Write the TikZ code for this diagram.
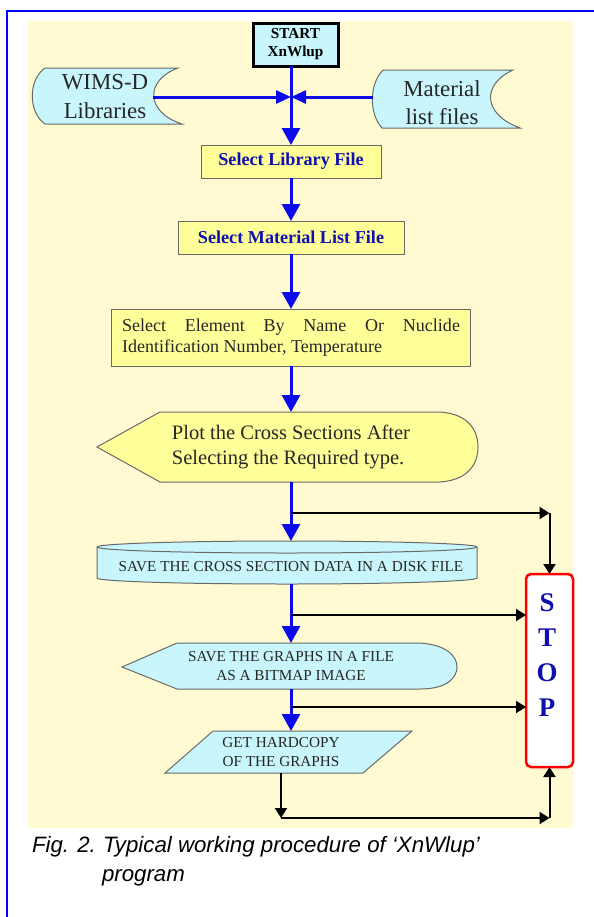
\documentclass[tikz,border=0pt]{standalone}
\usepackage{fontspec}
\setmainfont{Liberation Serif}
\newfontfamily\capfont{Liberation Sans}
\usetikzlibrary{arrows.meta}
\definecolor{pagebg}{RGB}{255,250,210}
\definecolor{boxyellow}{RGB}{255,255,153}
\definecolor{boxcyan}{RGB}{200,246,252}
\definecolor{flowblue}{RGB}{10,10,235}
\definecolor{textblue}{RGB}{15,15,175}
\definecolor{rimgray}{RGB}{105,105,105}

\begin{document}
\begin{tikzpicture}
[x=0.3mm, y=-0.3mm, thick, color=black,
 every node/.style={outer sep=0pt, inner sep=0pt, text=black!85},
 startbox/.style={draw=black, line width=0.9mm, fill=boxcyan, minimum width=25.5mm,
   minimum height=12.9mm, align=center, text=black, font=\bfseries\fontsize{13}{15.4}\selectfont},
 selbox/.style={draw=rimgray, line width=0.3mm, fill=boxyellow, minimum height=9.9mm,
   text=textblue, font=\bfseries\fontsize{15.5}{18}\selectfont},
 elembox/.style={draw=rimgray, line width=0.3mm, fill=boxyellow, minimum width=107.4mm,
   minimum height=17.1mm, text width=101.4mm, align=justify, font=\fontsize{15.4}{18}\selectfont},
 tapeshape/.style={draw=rimgray, line width=0.3mm, fill=boxcyan},
 dispshape/.style={draw=rimgray, line width=0.3mm},
 tapetext/.style={align=center, font=\fontsize{19.5}{24}\selectfont},
 plottext/.style={align=left, font=\fontsize{17.5}{21.3}\selectfont},
 capsline/.style={align=center, font=\fontsize{13}{16.2}\selectfont},
 stopbox/.style={draw=red, line width=0.75mm, fill=white, rounded corners=1.5mm,
   minimum width=14.1mm, minimum height=57.9mm},
 stoptext/.style={align=center, text=textblue, font=\bfseries\fontsize{23}{29.9}\selectfont},
 captext/.style={font=\capfont\itshape\fontsize{19}{24.8}\selectfont, text=black},
 flow/.style={draw=flowblue, line width=0.9mm, -{Triangle[length=5.1mm,width=5.4mm]}},
 joinflow/.style={flow, -{Triangle[length=4.5mm,width=3.9mm]}},
 stopflow/.style={draw=black, line width=0.6mm, -{Triangle[length=3mm,width=3.6mm]}}]
  \useasboundingbox (0,0) rectangle (594,917);
  \fill[white] (0,0) rectangle (594,917);
  \fill[pagebg] (28,21) rectangle (573,828);
  \draw[blue, line width=0.6mm] (7,917) -- (7,11) -- (594,11);
  % outlines first, the text nodes go on top
  \draw[tapeshape] (45,68) .. controls (28,80) and (28,112) .. (45,124) -- (182,124)
    .. controls (145,112) and (145,80) .. (178,68) -- cycle;
  \draw[tapeshape] (383,70) .. controls (369,84) and (369,114) .. (382,128) -- (520,128)
    .. controls (482,114) and (482,84) .. (513,70) -- cycle;
  \draw[dispshape, fill=boxyellow] (97,447) -- (160,412) -- (440,412)
    .. controls (470,414) and (478,432) .. (478,447)
    .. controls (478,462) and (470,480) .. (440,482) -- (160,482) -- cycle;
  \draw[dispshape, fill=boxcyan] (97,547) -- (97,578)
    arc[start angle=180, end angle=0, x radius=190, y radius=6] -- (477,547)
    arc[start angle=0, end angle=-180, x radius=190, y radius=6] -- cycle;
  \draw[dispshape] (97,547) arc[start angle=180, end angle=0, x radius=190, y radius=6];
  \draw[dispshape, fill=boxcyan] (122,667) -- (177,643) -- (420,643)
    .. controls (448,645) and (457,657) .. (457,667)
    .. controls (457,677) and (448,689) .. (420,689) -- (177,689) -- cycle;
  \draw[dispshape, fill=boxcyan] (213,731) -- (412,731) -- (363,773) -- (165,773) -- cycle;

  \node[startbox] (start) at (295.5,44.5) {START\\XnWlup};
  \node[tapetext] (wims) at (105,96.5) {WIMS-D\\Libraries};
  \node[tapetext] (mat) at (442,102.5) {Material\\list files};
  \node[selbox, minimum width=54mm] (lib) at (291,161.5) {Select Library File};
  \node[selbox, minimum width=67.8mm] (matsel) at (291,237.5) {Select Material List File};
  \node[elembox] (elem) at (291,337.5) {Select Element By Name Or Nuclide \mbox{Identification} Number, Temperature};
  \node[plottext, minimum height=21mm] (plot) at (291,447) {Plot the Cross Sections After\\Selecting the Required type.};
  \node[capsline, minimum height=12.9mm, text height=16.2pt, text depth=0pt] (disk) at (291,562.5)
    {SAVE THE CROSS SECTION DATA IN A DISK FILE};
  \node[capsline, minimum height=13.8mm] (graph) at (291,666) {SAVE THE GRAPHS IN A FILE\\AS A BITMAP IMAGE};
  \node[capsline, minimum height=12.6mm] (hard) at (281,752) {GET HARDCOPY\\OF THE GRAPHS};
  \node[stopbox] (stop) at (549.5,670.5) {};
  \node[stoptext] (stopword) at (547,655) {S\\T\\O\\P};

  \coordinate (wimsR) at (153,97);
  \coordinate (matL) at (373,97);
  \coordinate (join) at (291,97);
  \coordinate (b1) at (291,513);
  \coordinate (b2) at (291,615);
  \coordinate (b3) at (291,707);
  \coordinate (b4) at (281,818);

  \draw[joinflow] (wimsR) -- (join);
  \draw[joinflow] (matL) -- (join);
  \draw[flow] (start.south -| lib) -- (lib);
  \foreach \from/\to in {lib/matsel,matsel/elem,elem/plot,plot/disk,disk/graph}
  \draw[flow] (\from) -- (\to);
  \draw[flow] (graph) -- (graph |- hard.north);

  \draw[stopflow] (b1) -- (b1 -| stop);
  \draw[stopflow] (b1 -| stop) -- (stop);
  \foreach \b in {b2,b3}
  \draw[stopflow] (\b) -- (\b -| stop.west);
  \draw[stopflow] (hard) -- (b4);
  \draw[stopflow] (b4) -- (b4 -| stop);
  \draw[stopflow] (b4 -| stop) -- (stop);

  \node[captext, anchor=base west] (fig) at (32,852) {Fig. 2.};
  \node[captext, anchor=base west] (figtext) at (103,852) {Typical working procedure of ‘XnWlup’};
  \node[captext, anchor=base west] (figprog) at (102,881) {program};
\end{tikzpicture}
\end{document}
